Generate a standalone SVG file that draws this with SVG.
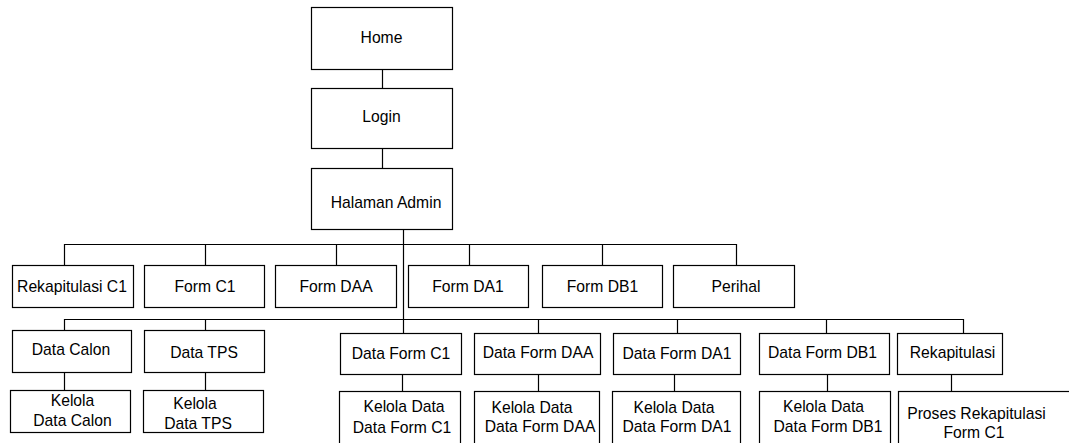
<svg xmlns="http://www.w3.org/2000/svg" width="1069" height="443" viewBox="0 0 1069 443">
  <style>
    .box { fill: #ffffff; stroke: #000000; stroke-width: 1.2; }
    .link { fill: none; stroke: #000000; stroke-width: 1.2; }
    .label { font-family: "Liberation Sans", Arial, sans-serif; font-size: 15.7px; fill: #000000; text-anchor: middle; }
  </style>
  <rect width="1069" height="443" fill="#ffffff"/>

  <!-- connectors -->
  <g id="connectors">
    <path class="link" d="M382.5 69V88 M382.5 148V168 M403.5 229V333"/>
    <path class="link" d="M64.5 244.5H736.5 M64.5 244V265 M205.5 244V265 M336.5 244V265 M469.5 244V265 M602.5 244V265 M736.5 244V265"/>
    <path class="link" d="M64.5 319.5H963.5 M64.5 319V330 M205.5 319V330 M538.5 319V333 M677.5 319V333 M826.5 319V333 M963.5 319V333"/>
    <path class="link" d="M64.5 372V390 M205.5 372V390 M402.5 374V391 M538.5 374V391 M674.5 374V391 M827.5 374V391 M951.5 374V391"/>
  </g>

  <!-- top chain -->
  <g id="home"><rect class="box" x="311.5" y="7.5" width="141" height="62"/><text class="label" x="381.5" y="43">Home</text></g>
  <g id="login"><rect class="box" x="311.5" y="88.5" width="141" height="60"/><text class="label" x="381.5" y="122">Login</text></g>
  <g id="halaman-admin"><rect class="box" x="311.5" y="168.5" width="141" height="61"/><text class="label" x="386" y="208">Halaman Admin</text></g>

  <!-- menu level -->
  <g id="rekapitulasi-c1"><rect class="box" x="12.5" y="265.5" width="121" height="42"/><text class="label" x="72" y="292">Rekapitulasi C1</text></g>
  <g id="form-c1"><rect class="box" x="144.5" y="265.5" width="120" height="42"/><text class="label" x="205" y="292">Form C1</text></g>
  <g id="form-daa"><rect class="box" x="275.5" y="265.5" width="121" height="42"/><text class="label" x="336" y="292">Form DAA</text></g>
  <g id="form-da1"><rect class="box" x="408.5" y="265.5" width="120" height="42"/><text class="label" x="468" y="292">Form DA1</text></g>
  <g id="form-db1"><rect class="box" x="542.5" y="265.5" width="120" height="42"/><text class="label" x="602.5" y="292">Form DB1</text></g>
  <g id="perihal"><rect class="box" x="673.5" y="265.5" width="121" height="42"/><text class="label" x="736" y="292">Perihal</text></g>

  <!-- data level -->
  <g id="data-calon"><rect class="box" x="12.5" y="330.5" width="119" height="42"/><text class="label" x="71" y="355">Data Calon</text></g>
  <g id="data-tps"><rect class="box" x="144.5" y="330.5" width="120" height="42"/><text class="label" x="204" y="358">Data TPS</text></g>
  <g id="data-form-c1"><rect class="box" x="340.5" y="333.5" width="121" height="41"/><text class="label" x="401" y="359">Data Form C1</text></g>
  <g id="data-form-daa"><rect class="box" x="474.5" y="333.5" width="126" height="41"/><text class="label" x="538" y="358">Data Form DAA</text></g>
  <g id="data-form-da1"><rect class="box" x="613.5" y="333.5" width="127" height="41"/><text class="label" x="677" y="359">Data Form DA1</text></g>
  <g id="data-form-db1"><rect class="box" x="759.5" y="333.5" width="130" height="41"/><text class="label" x="822.5" y="358">Data Form DB1</text></g>
  <g id="rekapitulasi"><rect class="box" x="897.5" y="333.5" width="105" height="41"/><text class="label" x="952.5" y="358">Rekapitulasi</text></g>

  <!-- management level -->
  <g id="kelola-data-calon"><rect class="box" x="10.5" y="390.5" width="120" height="42"/><text class="label" x="72.5" y="406">Kelola</text><text class="label" x="72.5" y="426">Data Calon</text></g>
  <g id="kelola-data-tps"><rect class="box" x="143.5" y="390.5" width="120" height="42"/><text class="label" x="195" y="409">Kelola</text><text class="label" x="198" y="429">Data TPS</text></g>
  <g id="kelola-data-form-c1"><rect class="box" x="339.5" y="391.5" width="121" height="54"/><text class="label" x="404" y="412">Kelola Data</text><text class="label" x="402" y="433">Data Form C1</text></g>
  <g id="kelola-data-form-daa"><rect class="box" x="474.5" y="391.5" width="125" height="54"/><text class="label" x="532" y="413">Kelola Data</text><text class="label" x="540" y="432">Data Form DAA</text></g>
  <g id="kelola-data-form-da1"><rect class="box" x="612.5" y="391.5" width="128" height="54"/><text class="label" x="674" y="413">Kelola Data</text><text class="label" x="677" y="432">Data Form DA1</text></g>
  <g id="kelola-data-form-db1"><rect class="box" x="759.5" y="391.5" width="131" height="54"/><text class="label" x="823.5" y="412">Kelola Data</text><text class="label" x="828" y="432">Data Form DB1</text></g>
  <g id="proses-rekapitulasi-form-c1"><rect class="box" x="898.5" y="391.5" width="174" height="54"/><text class="label" x="976.5" y="419">Proses Rekapitulasi</text><text class="label" x="974" y="438">Form C1</text></g>
</svg>
